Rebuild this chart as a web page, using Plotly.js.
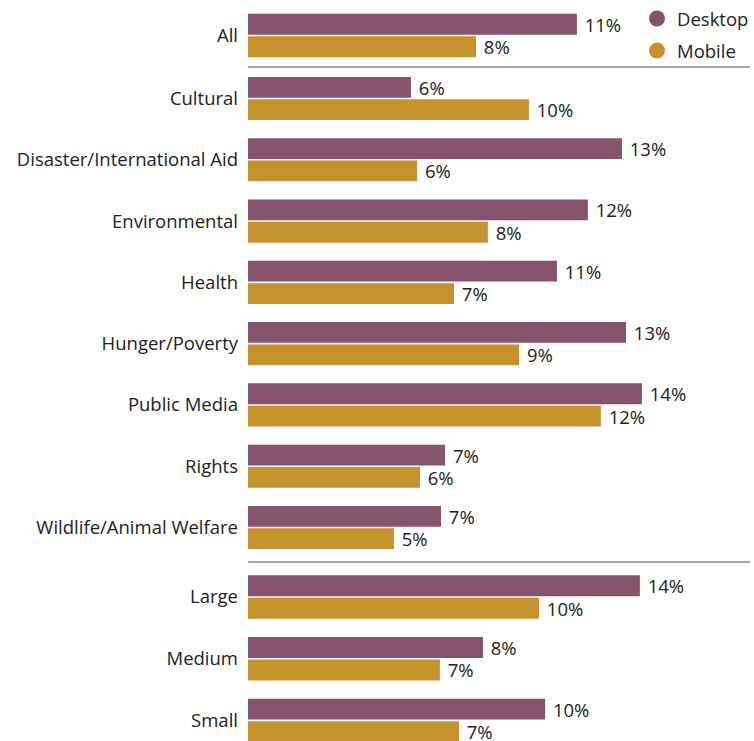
<!DOCTYPE html>
<html>
<head>
<meta charset="utf-8">
<script src="https://cdn.plot.ly/plotly-3.0.1.min.js"></script>
<style>html,body{margin:0;padding:0;background:#fff;}#chart{width:754px;height:741px;}</style>
</head>
<body>
<div id="chart"></div>
<script>
// Categories by group
const groupAll = ["All"];
const groupCause = ["Cultural", "Disaster/International Aid", "Environmental", "Health",
  "Hunger/Poverty", "Public Media", "Rights", "Wildlife/Animal Welfare"];
const groupSize = ["Large", "Medium", "Small"];

// Desktop values (%)
const desktopAll = [11.38];
const desktopCause = [5.64, 12.94, 11.76, 10.69, 13.08, 13.63, 6.82, 6.68];
const desktopSize = [13.56, 8.13, 10.28];

// Mobile values (%)
const mobileAll = [7.89];
const mobileCause = [9.72, 5.85, 8.30, 7.13, 9.38, 12.21, 5.95, 5.05];
const mobileSize = [10.07, 6.64, 7.30];

const seriesNames = ["Desktop", "Mobile"];
const colors = ["#85546C", "#C6922E"];

const FONT = "'Open Sans', sans-serif";
const FS = 18.5;
const TXT = "#222222";
const lbl = v => v.map(x => " " + Math.round(x) + "%");

function barTrace(name, color, cats, vals, yaxis) {
  return {
    type: "bar", orientation: "h", name: name,
    x: vals, y: cats, yaxis: yaxis, xaxis: "x",
    marker: {color: color},
    text: lbl(vals), textposition: "outside", cliponaxis: false,
    constraintext: "none",
    textfont: {family: FONT, size: FS, color: TXT},
    showlegend: false, hoverinfo: "skip"
  };
}

const groups = [
  {cats: groupAll, d: desktopAll, m: mobileAll, ax: "y"},
  {cats: groupCause, d: desktopCause, m: mobileCause, ax: "y2"},
  {cats: groupSize, d: desktopSize, m: mobileSize, ax: "y3"}
];

const data = [];
groups.forEach(g => {
  data.push(barTrace(seriesNames[0], colors[0], g.cats, g.d, g.ax));
  data.push(barTrace(seriesNames[1], colors[1], g.cats, g.m, g.ax));
});
// legend entries with circle markers
seriesNames.forEach((n, i) => {
  data.push({type: "scatter", mode: "markers", name: n, x: [null], y: [null],
    xaxis: "x", yaxis: "y", legendgroup: n,
    marker: {color: colors[i], size: 18, symbol: "circle"}, hoverinfo: "skip"});
});

function yax(domain, range) {
  return {domain: domain, range: range, anchor: "x", type: "category",
    showgrid: false, zeroline: false, showline: false, ticks: "",
    ticklabelstandoff: 9,
    tickfont: {family: FONT, size: FS, color: TXT}, fixedrange: true};
}

const layout = {
  width: 754, height: 741,
  margin: {l: 248, r: 4, t: 0, b: 0},
  paper_bgcolor: "#fff", plot_bgcolor: "#fff",
  barmode: "group", bargap: 0.27, bargroupgap: 0.07,
  font: {family: FONT, size: FS, color: TXT},
  xaxis: {range: [0, 17.37], visible: false, fixedrange: true},
  yaxis: yax([0.91046, 0.99372], [0.5, -0.5]),
  yaxis2: yax([0.24677, 0.90842], [7.5, -0.5]),
  yaxis3: yax([0, 0.23596], [2.334, -0.5]),
  showlegend: true,
  legend: {x: 0.775, xanchor: "left", y: 1.0, yanchor: "top",
    bgcolor: "rgba(0,0,0,0)", tracegroupgap: 5,
    font: {family: FONT, size: FS, color: TXT}},
  shapes: [
    {type: "line", xref: "paper", yref: "paper", x0: 0, x1: 1, y0: 0.9096, y1: 0.9096,
      line: {color: "#888", width: 1.5}},
    {type: "line", xref: "paper", yref: "paper", x0: 0, x1: 1, y0: 0.2414, y1: 0.2414,
      line: {color: "#888", width: 1.5}}
  ]
};

Plotly.newPlot("chart", data, layout, {displayModeBar: false, staticPlot: true});
</script>
</body>
</html>
